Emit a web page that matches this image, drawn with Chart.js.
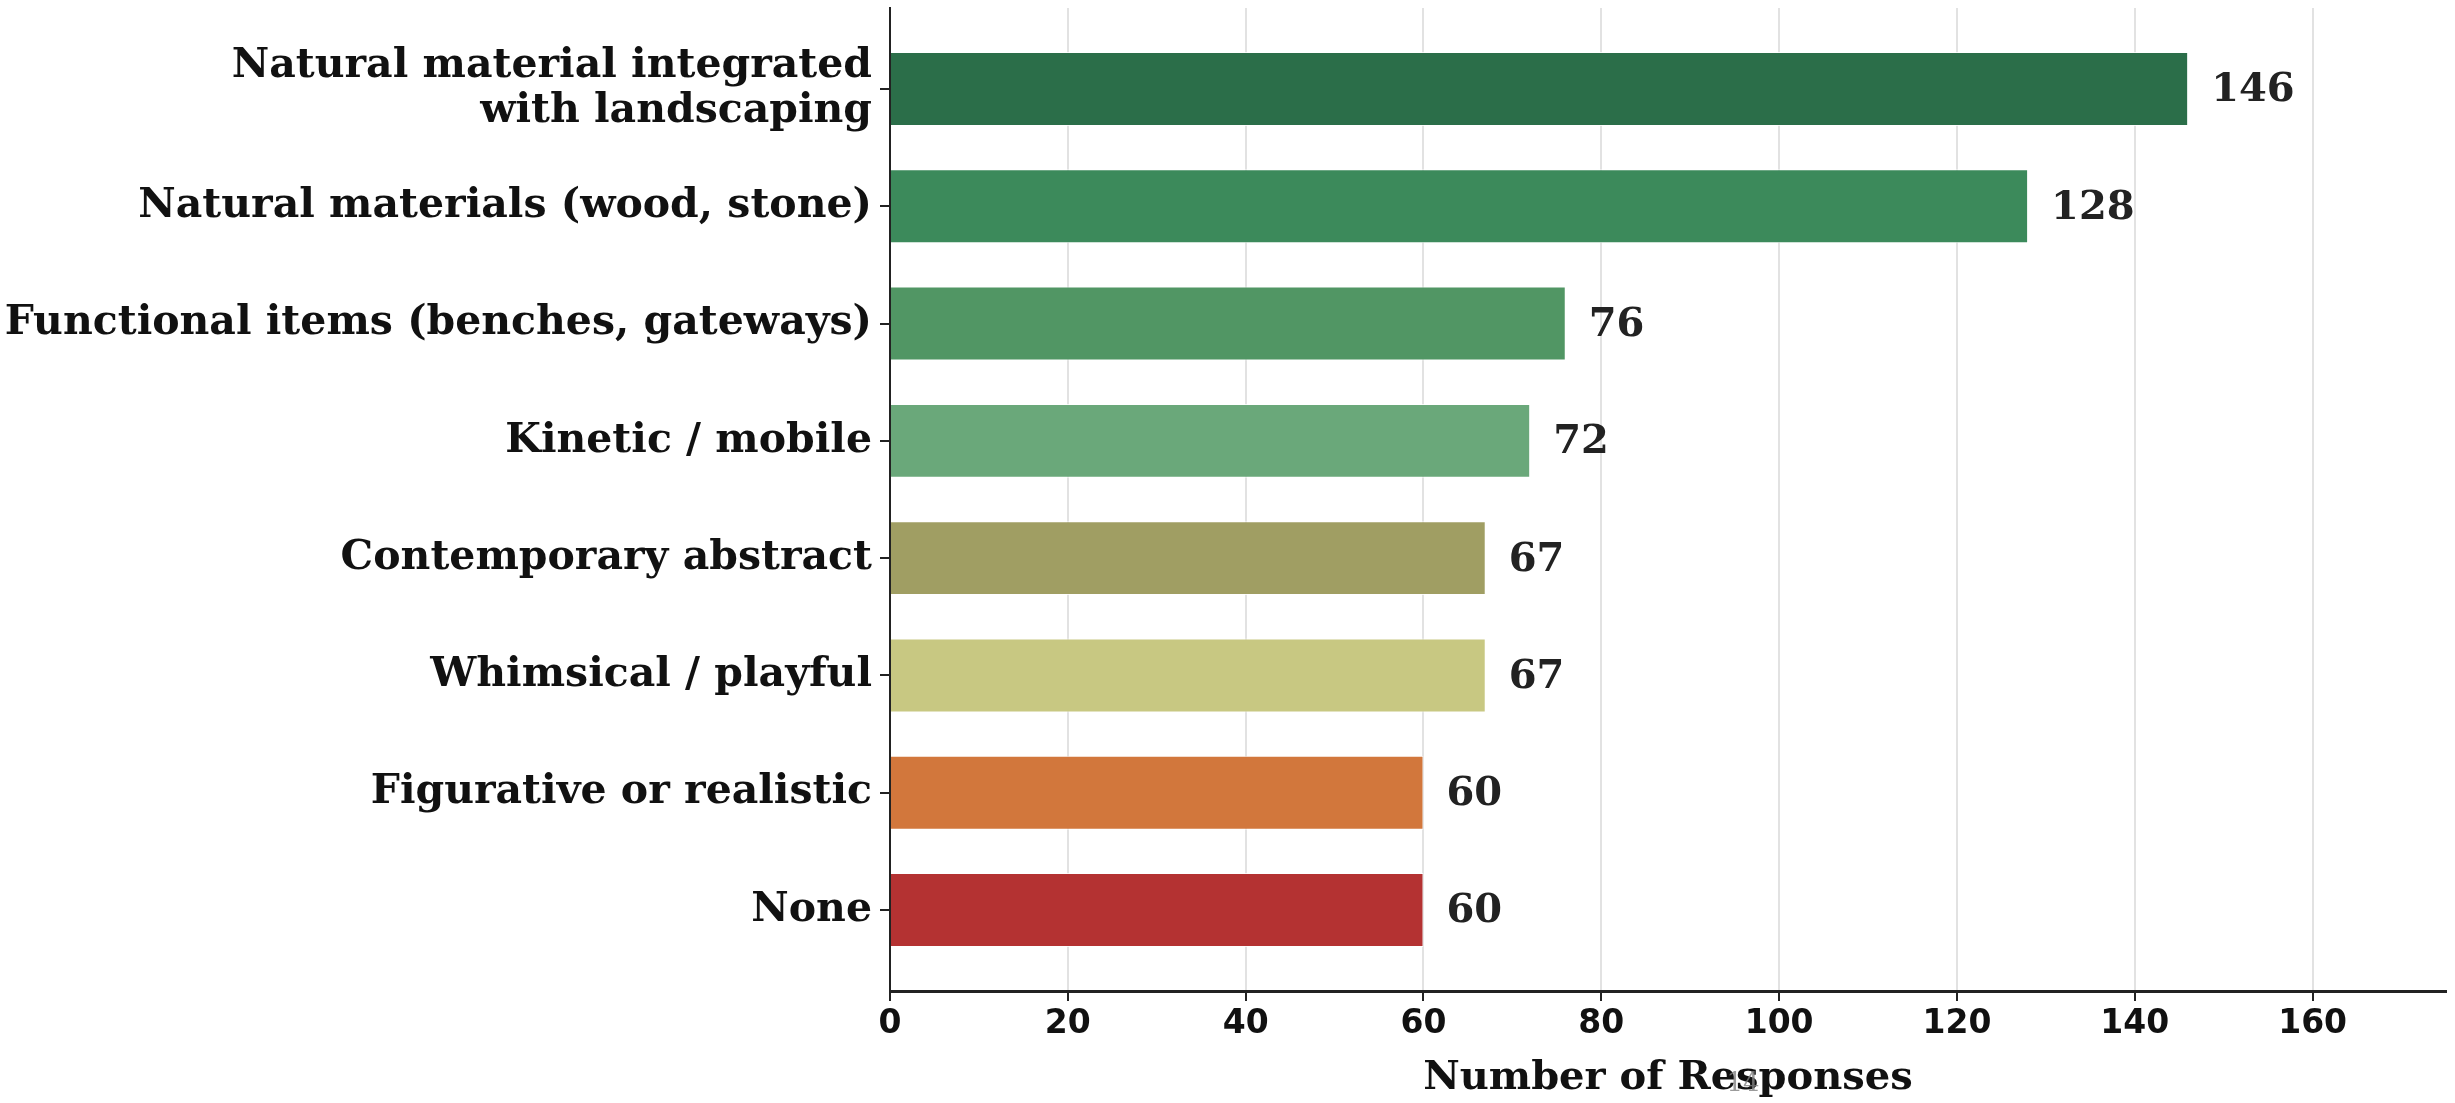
<!DOCTYPE html>
<html>
<head>
<meta charset="utf-8">
<script src="https://cdn.jsdelivr.net/npm/chart.js@4.4.1/dist/chart.umd.min.js"></script>
<style>
  html, body { margin: 0; padding: 0; background: #fff; }
  #wrap { width: 2455px; height: 1103px; }
</style>
</head>
<body>
<div id="wrap"><canvas id="chartId" width="2455" height="1103"></canvas></div>
<script>
// data, top to bottom
const categories = [
  ["Natural material integrated", "with landscaping"],
  "Natural materials (wood, stone)",
  "Functional items (benches, gateways)",
  "Kinetic / mobile",
  "Contemporary abstract",
  "Whimsical / playful",
  "Figurative or realistic",
  "None",
];
const responses = [146, 128, 76, 72, 67, 67, 60, 60];
const barColors = ["#2b6e49", "#3c8a5b", "#519664", "#6aa87a", "#a09e63", "#c8c882", "#d2773c", "#b43232"];
const xTicks = [0, 20, 40, 60, 80, 100, 120, 140, 160];
const xTitle = "Number of Responses";

const serif = "'DejaVu Serif', serif";
const sans = "'DejaVu Sans', sans-serif";

// values printed to the right of each bar
const valueLabels = {
  id: "valueLabels",
  afterDatasetsDraw(chart) {
    const ctx = chart.ctx;
    const meta = chart.getDatasetMeta(0);
    ctx.save();
    ctx.font = "bold 40px " + serif;
    ctx.fillStyle = "#222";
    ctx.textAlign = "left";
    ctx.textBaseline = "middle";
    meta.data.forEach((bar, i) => {
      ctx.fillText(String(responses[i]), bar.x + 23, bar.y + 2);
    });
    // faint stray mark under the axis title
    ctx.font = "26px " + serif;
    ctx.fillStyle = "rgba(130,130,130,0.8)";
    ctx.textAlign = "center";
    ctx.fillText("14", 1743, 1084);
    ctx.restore();
  },
};

const ctx = document.getElementById("chartId");
const chart = new Chart(ctx, {
  type: "bar",
  data: {
    datasets: [
      {
        data: responses.map((v, i) => ({ x: v, y: i })),
        backgroundColor: barColors,
        borderColor: "rgba(255,255,255,0.8)",
        borderWidth: 1,
        barPercentage: 0.63,
        categoryPercentage: 1,
      },
    ],
  },
  options: {
    indexAxis: "y",
    responsive: false,
    animation: false,
    layout: { padding: { top: 8, right: 9, left: 0, bottom: 0 } },
    plugins: { legend: { display: false }, tooltip: { enabled: false } },
    scales: {
      x: {
        type: "linear",
        min: 0,
        max: 175,
        afterBuildTicks: (axis) => {
          axis.ticks = xTicks.map((v) => ({ value: v }));
        },
        afterFit: (axis) => {
          axis.height = 112;
        },
        grid: {
          color: "#e2e2e2",
          lineWidth: 2,
          tickColor: "#222",
          tickLength: 10,
          drawTicks: true,
        },
        border: { color: "#222", width: 3 },
        ticks: {
          color: "#111",
          font: { family: sans, weight: "bold", size: 33 },
          padding: 4,
        },
        title: {
          display: true,
          text: xTitle,
          color: "#111",
          font: { family: serif, weight: "bold", size: 40 },
          padding: { top: 2, bottom: 0 },
        },
      },
      y: {
        type: "linear",
        reverse: true,
        offset: false,
        min: -0.69,
        max: 7.69,
        ticks: {
          stepSize: 1,
          includeBounds: false,
          autoSkip: false,
          color: "#111",
          font: { family: serif, weight: "bold", size: 41, lineHeight: 1.08 },
          padding: 8,
          callback: (v) => (Number.isInteger(v) ? categories[v] : ""),
        },
        afterFit: (axis) => {
          axis.width = 890;
          axis.paddingTop = 0;
          axis.paddingBottom = 0;
        },
        grid: {
          offset: false,
          drawOnChartArea: false,
          tickColor: "#222",
          tickLength: 10,
          lineWidth: 2,
        },
        border: { color: "#222", width: 2 },
      },
    },
  },
  plugins: [valueLabels],
});
</script>
</body>
</html>
